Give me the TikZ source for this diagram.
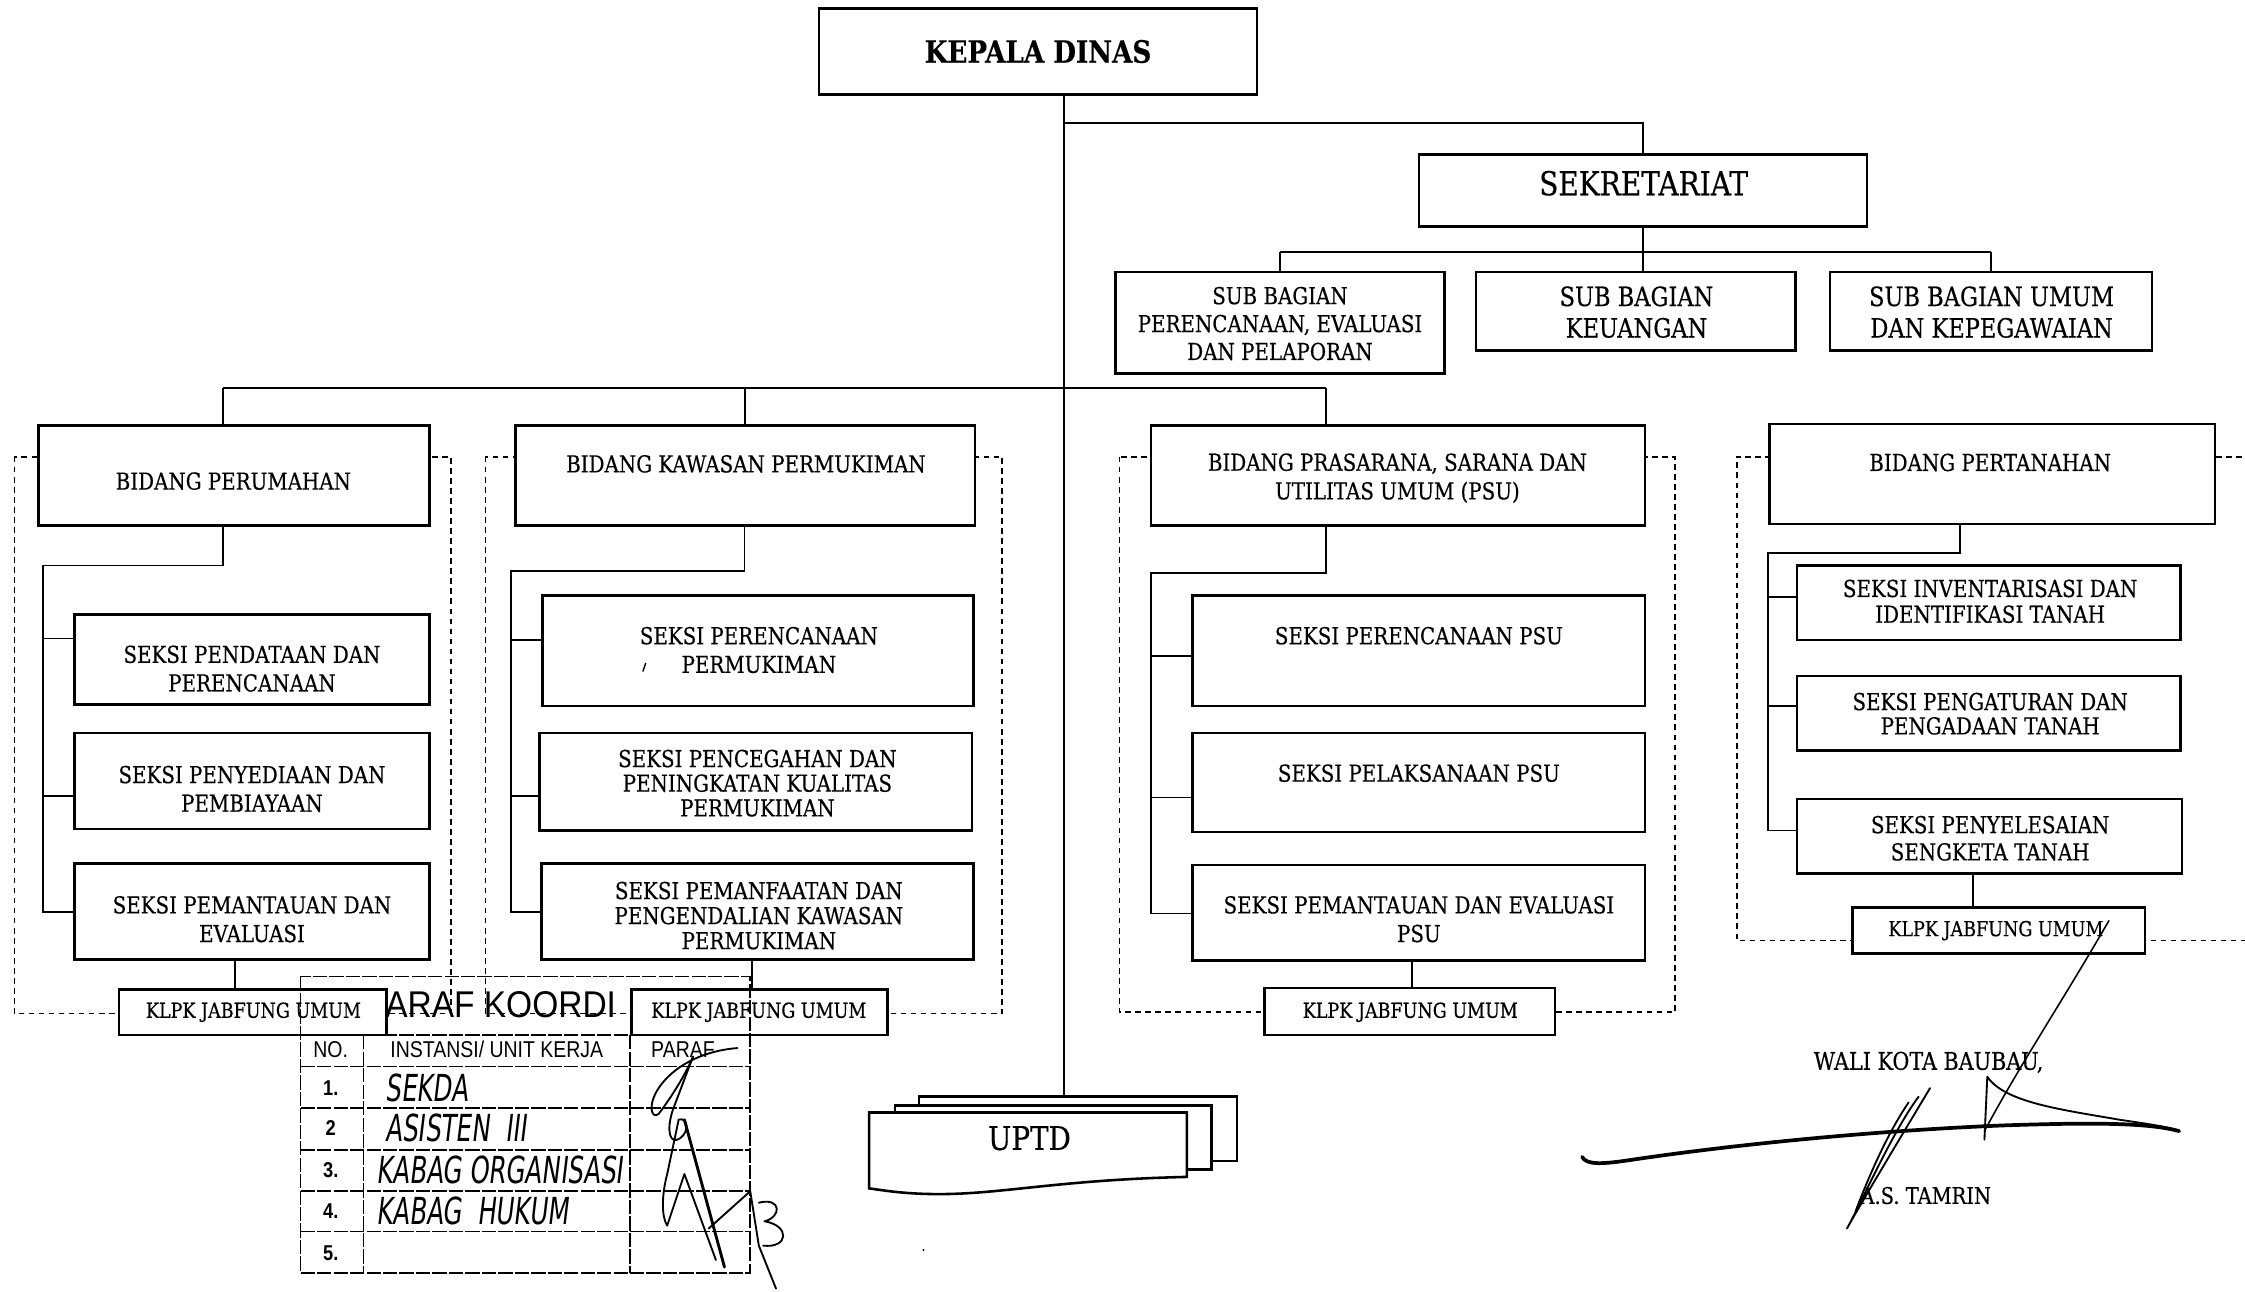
\documentclass[tikz,border=0pt]{standalone}
\usepackage{fontspec}
\setmainfont{DejaVu Serif}[FakeStretch=0.85,FakeBold=0.4]
\newfontfamily\stampfont{Liberation Sans}[FakeStretch=0.85]
\newfontfamily\stamptitlefont{Liberation Sans}[FakeStretch=0.9]
\newfontfamily\handfont{DejaVu Sans}[FakeStretch=0.66,FakeSlant=0.12]
\usetikzlibrary{calc}
\newcommand\myfs[2]{\fontsize{#1}{#2}\selectfont}
\newcommand\mybox[5]{\node[box, minimum width={(#4-#2)*1pt}, minimum height={(#5-#3)*1pt}] (#1) at ({(#2+#4)/2},{(#3+#5)/2}) {};}
\tikzset{
  box/.style={draw, line width=1.8pt, fill=white, inner sep=0pt},
  conn/.style={line width=1.2pt},
  dbox/.style={line width=1.1pt, dash pattern=on 4pt off 3pt},
  lbl/.style={align=center, inner sep=0pt, font=\myfs{16.3}{20}},
  klbl/.style={align=center, inner sep=0pt, font=\myfs{14.4}{15}},
  tline/.style={line width=1.1pt, dash pattern=on 10pt off 1.5pt},
  sig/.style={line width=1.3pt, line cap=round, line join=round},
  hand/.style={anchor=west, inner sep=0pt, font=\handfont\myfs{26}{26}},
  hdr/.style={inner sep=0pt, font=\stampfont\myfs{16}{16}},
  num/.style={inner sep=0pt, font=\stampfont\bfseries\myfs{15}{15}},
}
\begin{document}
\begin{tikzpicture}[x=1pt,y=-1pt]
\useasboundingbox[fill=white] (0,0) rectangle (1568,902);

% dashed group frames
\draw[dbox] (10,319) rectangle (315,708);
\draw[dbox] (339,319) rectangle (700,708);
\draw[dbox] (782,319) rectangle (1170,707);
\draw[dbox] (1580,319) -- (1213,319) -- (1213,657) -- (1580,657);

% stamp title (its first letter lies under the first KLPK box)
\node[inner sep=0pt, anchor=west, font=\stamptitlefont\myfs{26}{26}] (stamptitle) at (255,702) {PARAF KOORDI};

% trunk coordinates
\coordinate (tr) at (743,0);
\coordinate (j1) at (743,86);
\coordinate (j2) at (0,176);
\coordinate (j3) at (156,271);
\coordinate (j4) at (926,271);

% boxes
\mybox{kd}{572}{6}{878}{66}
\mybox{sek}{991}{108}{1304}{158}
\mybox{sb1}{779}{190}{1009}{261}
\mybox{sb2}{1031}{190}{1254}{245}
\mybox{sb3}{1278}{190}{1503}{245}
\mybox{b1}{27}{297}{300}{367}
\mybox{b2}{360}{297}{681}{367}
\mybox{b3}{804}{297}{1149}{367}
\mybox{b4}{1236}{296}{1547}{366}
\mybox{s11}{52}{429}{300}{492}
\mybox{s12}{52}{512}{300}{579}
\mybox{s13}{52}{603}{300}{670}
\mybox{s21}{379}{416}{680}{493}
\mybox{s22}{377}{512}{679}{580}
\mybox{s23}{378}{603}{680}{670}
\mybox{s31}{833}{416}{1149}{493}
\mybox{s32}{833}{512}{1149}{581}
\mybox{s33}{833}{604}{1149}{671}
\mybox{s41}{1255}{395}{1523}{447}
\mybox{s42}{1255}{472}{1523}{524}
\mybox{s43}{1255}{558}{1524}{610}
\mybox{k1}{83}{691}{270}{723}
\mybox{k2}{441}{691}{620}{723}
\mybox{k3}{883}{690}{1086}{723}
\mybox{k4}{1294}{634}{1498}{666}

% UPTD sheets
\mybox{u3}{642}{766}{864}{811}
\mybox{u2}{625}{772}{846}{817}
\draw[line width=1.8pt, fill=white] (607,777) -- (829,777) -- (829,822)
  .. controls (740,824) and (700,834) .. (656,834)
  .. controls (630,834) and (615,831) .. (607,830) -- cycle;
\node[inner sep=0pt, font=\myfs{22.8}{23}] (uptd) at (719,795) {UPTD};

% connectors
\draw[conn] (kd.south -| tr) -- (u3.north -| tr);
\draw[conn] (j1) -- (j1 -| sek.north) -- (sek.north);
\draw[conn] (sek.south) -- (sek.south |- sb2.north);
\draw[conn] (sb1.north |- j2) -- (sb3.north |- j2);
\draw[conn] (sb1.north |- j2) -- (sb1.north);
\draw[conn] (sb3.north |- j2) -- (sb3.north);
\draw[conn] (j3) -- (j4);
\draw[conn] (j3) -- (j3 |- b1.north);
\draw[conn] (b2.north |- j3) -- (b2.north);
\draw[conn] (j4) -- (j4 |- b3.north);

% Perumahan
\coordinate (p1) at (156,395); \coordinate (p2) at (30,395);
\coordinate (a11) at (52,446); \coordinate (a12) at (52,556); \coordinate (a13) at (52,637);
\draw[conn] (p1 |- b1.south) -- (p1) -- (p2) -- (p2 |- a13) -- (a13);
\draw[conn] (p2 |- a11) -- (a11);
\draw[conn] (p2 |- a12) -- (a12);
\coordinate (kx1) at (164,0);
\draw[conn] (s13.south -| kx1) -- (k1.north -| kx1);

% Kawasan
\coordinate (q1) at (520,399); \coordinate (q2) at (357,399);
\coordinate (a21) at (379,447); \coordinate (a22) at (377,556); \coordinate (a23) at (378,637);
\draw[conn] (q1 |- b2.south) -- (q1) -- (q2) -- (q2 |- a23) -- (a23);
\draw[conn] (q2 |- a21) -- (a21);
\draw[conn] (q2 |- a22) -- (a22);
\coordinate (kx2) at (525,0);
\draw[conn] (s23.south -| kx2) -- (k2.north -| kx2);

% Prasarana
\coordinate (r1) at (926,400); \coordinate (r2) at (804,400);
\coordinate (a31) at (833,458); \coordinate (a32) at (833,557); \coordinate (a33) at (833,638);
\draw[conn] (r1 |- b3.south) -- (r1) -- (r2) -- (r2 |- a33) -- (a33);
\draw[conn] (r2 |- a31) -- (a31);
\draw[conn] (r2 |- a32) -- (a32);
\coordinate (kx3) at (986,0);
\draw[conn] (s33.south -| kx3) -- (k3.north -| kx3);

% Pertanahan
\coordinate (w1) at (1369,386); \coordinate (w2) at (1235,386);
\coordinate (a41) at (1255,417); \coordinate (a42) at (1255,493); \coordinate (a43) at (1255,580);
\draw[conn] (w1 |- b4.south) -- (w1) -- (w2) -- (w2 |- a43) -- (a43);
\draw[conn] (w2 |- a41) -- (a41);
\draw[conn] (w2 |- a42) -- (a42);
\coordinate (kx4) at (1378,0);
\draw[conn] (s43.south -| kx4) -- (k4.north -| kx4);

% labels
\node[lbl, font=\bfseries\myfs{21.5}{22}] (t-kd) at (725,36) {KEPALA DINAS};
\node[lbl, font=\myfs{23}{24}] (t-sek) at (1148,128) {SEKRETARIAT};
\node[lbl, font=\myfs{16.3}{19.5}] (t-sb1) at (894,226) {SUB BAGIAN\\PERENCANAAN, EVALUASI\\DAN PELAPORAN};
\node[lbl, font=\myfs{18.5}{22}] (t-sb2) at (1143,218) {SUB BAGIAN\\KEUANGAN};
\node[lbl, font=\myfs{18.5}{22}] (t-sb3) at (1391,218) {SUB BAGIAN UMUM\\DAN KEPEGAWAIAN};
\node[lbl] (t-b1) at (163,336) {BIDANG PERUMAHAN};
\node[lbl] (t-b2) at (521,324) {BIDANG KAWASAN PERMUKIMAN};
\node[lbl] (t-b3) at (976,334) {BIDANG PRASARANA, SARANA DAN\\UTILITAS UMUM (PSU)};
\node[lbl] (t-b4) at (1390,323) {BIDANG PERTANAHAN};
\node[lbl] (t-s11) at (176,467) {SEKSI PENDATAAN DAN\\PERENCANAAN};
\node[lbl] (t-s12) at (176,551) {SEKSI PENYEDIAAN DAN\\PEMBIAYAAN};
\node[lbl] (t-s13) at (176,642) {SEKSI PEMANTAUAN DAN\\EVALUASI};
\node[lbl] (t-s21) at (530,454) {SEKSI PERENCANAAN\\PERMUKIMAN};
\node[lbl, font=\myfs{16.3}{17.2}] (t-s22) at (529,547) {SEKSI PENCEGAHAN DAN\\PENINGKATAN KUALITAS\\PERMUKIMAN};
\node[lbl, font=\myfs{16.3}{17.5}] (t-s23) at (530,639.5) {SEKSI PEMANFAATAN DAN\\PENGENDALIAN KAWASAN\\PERMUKIMAN};
\node[lbl] (t-s31) at (991,444) {SEKSI PERENCANAAN PSU};
\node[lbl] (t-s32) at (991,540) {SEKSI PELAKSANAAN PSU};
\node[lbl] (t-s33) at (991,642) {SEKSI PEMANTAUAN DAN EVALUASI\\PSU};
\node[lbl, font=\myfs{16.3}{18}] (t-s41) at (1390,420) {SEKSI INVENTARISASI DAN\\IDENTIFIKASI TANAH};
\node[lbl, font=\myfs{16.3}{17}] (t-s42) at (1390,498.5) {SEKSI PENGATURAN DAN\\PENGADAAN TANAH};
\node[lbl, font=\myfs{16.3}{19}] (t-s43) at (1390,585.5) {SEKSI PENYELESAIAN\\SENGKETA TANAH};
\node[klbl] (t-k1) at (177,707) {KLPK JABFUNG UMUM};
\node[klbl] (t-k2) at (530,707) {KLPK JABFUNG UMUM};
\node[klbl] (t-k3) at (985,707) {KLPK JABFUNG UMUM};
\node[klbl] (t-k4) at (1394,650) {KLPK JABFUNG UMUM};
\draw[line width=1pt] (451,463) -- (449,469);

% stamp table
\draw[tline] (210,682) rectangle (524,889);
\draw[tline] (210,723) -- (524,723);
\foreach \yy in {745,774,803,832,860} \draw[tline] (210,\yy) -- (524,\yy);
\draw[tline] (254,723) -- (254,889);
\draw[tline] (440,723) -- (440,889);
\node[hdr] (h1) at (231,733) {NO.};
\node[hdr] (h2) at (347,733) {INSTANSI/ UNIT KERJA};
\node[hdr] (h3) at (477,733) {PARAF};
\node[num] (n1) at (231,760) {1.};
\node[num] (n2) at (231,788) {2};
\node[num] (n3) at (231,817) {3.};
\node[num] (n4) at (231,846) {4.};
\node[num] (n5) at (231,875) {5.};
\node[hand] (w-1) at (269,760) {SEKDA};
\node[hand] (w-2) at (269,788) {ASISTEN \ III};
\node[hand] (w-3) at (263,817) {KABAG ORGANISASI};
\node[hand] (w-4) at (263,846) {KABAG \ HUKUM};

% paraf scrawl
\draw[sig] (515,732) .. controls (490,734) and (470,745) .. (460,760)
  .. controls (452,772) and (455,782) .. (460,778)
  .. controls (470,765) and (480,748) .. (484,738);
\draw[sig] (484,738) -- (470,775) .. controls (465,790) and (468,800) .. (475,795)
  .. controls (482,790) and (480,780) .. (474,782) -- (466,820)
  .. controls (462,835) and (462,850) .. (466,856) -- (478,820) -- (500,880);
\draw[sig, line width=2pt] (478,782) -- (506,885);
\draw[sig] (495,858) -- (524,832) -- (530,870) -- (542,900);
\draw[sig] (530,840) .. controls (546,836) and (546,850) .. (534,853)
  .. controls (552,856) and (551,872) .. (533,870);

% signature block
\node[inner sep=0pt, font=\myfs{17}{17}] (wali) at (1347,742) {WALI KOTA BAUBAU,};
\node[inner sep=0pt, font=\myfs{16}{16}] (tamrin) at (1345,835) {A.S. TAMRIN};
\coordinate (sg1) at (1105,808);
\coordinate (sg2) at (1522,790);
\draw[sig, line width=2.6pt] (sg1) .. controls (1108,814) and (1120,813) .. (1140,810)
  .. controls (1200,801) and (1300,790) .. (1400,786)
  .. controls (1460,784) and (1500,784) .. (sg2);
\draw[sig] (1348,760) .. controls (1330,790) and (1300,840) .. (1290,858)
  .. controls (1300,840) and (1322,790) .. (1340,766);
\draw[sig] (1333,770) .. controls (1316,795) and (1302,830) .. (1296,846);
\draw[sig] (1386,796) -- (1388,752) .. controls (1400,770) and (1440,775) .. (1480,782)
  .. controls (1500,785) and (1515,787) .. (sg2);
\draw[sig, line width=1.1pt] (k4.north east) ++(-26,10) .. controls (1440,700) and (1410,745) .. (1386,790);
\fill (645,873) circle (0.8);
\end{tikzpicture}
\end{document}
